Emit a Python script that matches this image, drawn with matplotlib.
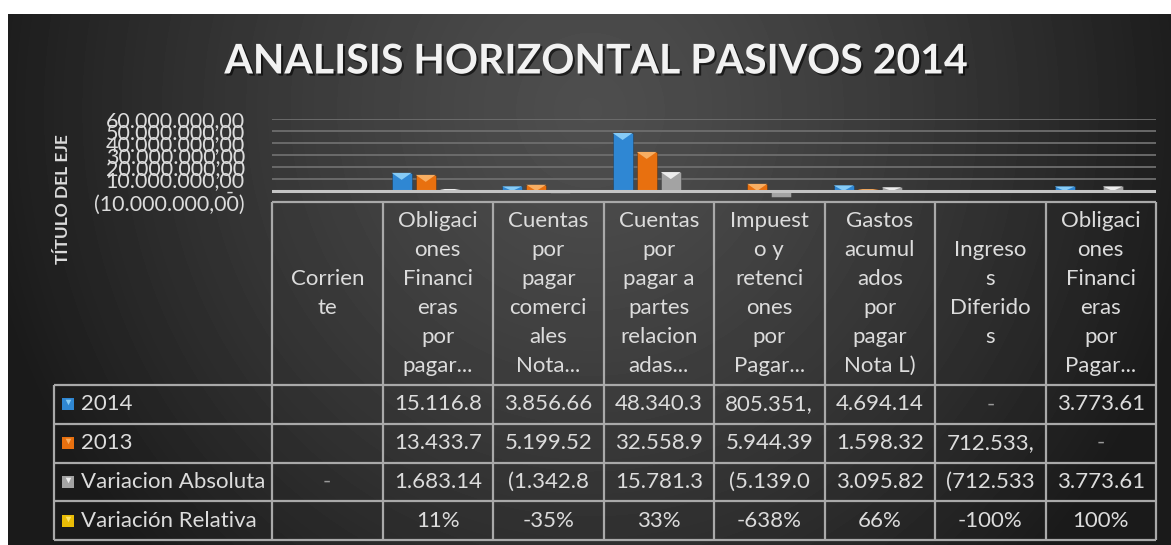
import numpy as np
import matplotlib.pyplot as plt
from matplotlib import patheffects as pe
from matplotlib.ticker import FuncFormatter, MultipleLocator

plt.rcParams['font.family'] = ['Lato', 'DejaVu Sans']

W, H = 1171, 545

# ---------------------------------------------------------------------------
# Datos
# ---------------------------------------------------------------------------
categorias = [
    "Corrien\nte",
    "Obligaci\nones\nFinanci\neras\npor\npagar...",
    "Cuentas\npor\npagar\ncomerci\nales\nNota...",
    "Cuentas\npor\npagar a\npartes\nrelacion\nadas...",
    "Impuest\no y\nretenci\nones\npor\nPagar...",
    "Gastos\nacumul\nados\npor\npagar\nNota L)",
    "Ingreso\ns\nDiferido\ns",
    "Obligaci\nones\nFinanci\neras\npor\nPagar...",
]
series = ["2014", "2013", "Variacion Absoluta", "Variación Relativa"]

v2014 = [np.nan, 15116800, 3856660, 48340300, 805351, 4694140, 0, 3773610]
v2013 = [np.nan, 13433700, 5199520, 32558900, 5944390, 1598320, 712533, 0]
var_abs = [0, 1683140, -1342860, 15781300, -5139040, 3095820, -712533, 3773610]
var_rel = [np.nan, 0.11, -0.35, 0.33, -6.38, 0.66, -1.00, 1.00]

# texto tal como aparece (truncado) en la tabla de datos
txt_2014 = ["", "15.116.8", "3.856.66", "48.340.3", "805.351,", "4.694.14", "-", "3.773.61"]
txt_2013 = ["", "13.433.7", "5.199.52", "32.558.9", "5.944.39", "1.598.32", "712.533,", "-"]
txt_abs = ["-", "1.683.14", "(1.342.8", "15.781.3", "(5.139.0", "3.095.82", "(712.533", "3.773.61"]
txt_rel = ["", "11%", "-35%", "33%", "-638%", "66%", "-100%", "100%"]

valores = [v2014, v2013, var_abs, var_rel]
textos = [txt_2014, txt_2013, txt_abs, txt_rel]
colores = ["#2F87D3", "#E8700F", "#A3A3A3", "#E9BC06"]
claros = ["#86CBF6", "#F8AE62", "#EDEDED", "#FBE36A"]

TXT = "#dcdcdc"
LINEA = "#a9a9a9"
FS = 16

# ---------------------------------------------------------------------------
# Figura y fondo degradado
# ---------------------------------------------------------------------------
fig = plt.figure(figsize=(W / 100, H / 100), dpi=100)
fig.patch.set_facecolor("white")

bg = fig.add_axes([0, 0, 1, 1])
bg.set_xlim(0, W)
bg.set_ylim(H, 0)
bg.set_axis_off()
yy, xx = np.mgrid[14:H, 8:W]
d = np.sqrt(((xx - 590) / 620) ** 2 + ((yy - 110) / 650) ** 2)
g = (78 - 52 * np.clip(d, 0, 1) ** 1.3) / 255
bg.imshow(g, cmap="gray", vmin=0, vmax=1, extent=(8, W, H, 14),
          aspect="auto", interpolation="bilinear")

fig.text(596 / W, 1 - 62 / H, "ANALISIS HORIZONTAL PASIVOS 2014",
         ha="center", va="center", fontsize=29.5, fontweight="bold",
         color="#f2f2f2",
         path_effects=[pe.withSimplePatchShadow(offset=(1.5, -1.5),
                                                shadow_rgbFace="black",
                                                alpha=0.6)])

# ---------------------------------------------------------------------------
# Área del gráfico
# ---------------------------------------------------------------------------
px_l, px_r, px_top, px_bot = 272, 1156, 119, 203
ax = fig.add_axes([px_l / W, 1 - px_bot / H, (px_r - px_l) / W, (px_bot - px_top) / H])
ax.patch.set_alpha(0)
ax.set_xlim(-0.5, len(categorias) - 0.5)
ax.set_ylim(-10e6, 60e6)
for s in ax.spines.values():
    s.set_visible(False)
ax.yaxis.set_major_locator(MultipleLocator(10e6))
ax.grid(axis="y", color="#6e6e6e", lw=1.3)
ax.set_axisbelow(True)
ax.set_xticks([])


def fmt(v, _pos):
    if abs(v) < 1:
        return "-  "
    s = f"{abs(v):,.2f}".replace(",", "X").replace(".", ",").replace("X", ".")
    return f"({s})" if v < 0 else s


ax.yaxis.set_major_formatter(FuncFormatter(fmt))
ax.tick_params(axis="y", length=0, pad=19.5, labelsize=15.5, labelcolor=TXT)
ax.set_ylabel("TÍTULO DEL EJE", fontsize=12.5, fontweight="bold", color=TXT,
              va="center")
ax.yaxis.set_label_coords((63 - px_l) / (px_r - px_l), 0.05)

x = np.arange(len(categorias))
ancho, paso = 0.18, 0.218
ppx = 70e6 / (px_bot - px_top)  # unidades por pixel
for k, (vals, c, cl) in enumerate(zip(valores, colores, claros)):
    bars = ax.bar(x + (k - 1.5) * paso, np.nan_to_num(vals), ancho, color=c,
                  edgecolor="#00000040", lw=0.6, zorder=3)
    for b in bars:
        h = b.get_height()
        if h > 1.5e6:
            th = min(7 * ppx, h)
            x0, w = b.get_x(), b.get_width()
            ax.fill([x0, x0 + w, x0 + w / 2], [h, h, h - th], color=cl, zorder=4, lw=0)
ax.axhline(0, color="#c4c4c4", lw=2.2, zorder=5)

# ---------------------------------------------------------------------------
# Tabla de datos
# ---------------------------------------------------------------------------
tb_l, tb_top, tb_bot = 54, 202, 540
col_w = (px_r - px_l) / len(categorias)
row_h = 38.75
hdr = (385 - tb_top) / row_h
xl = -0.5 - (px_l - tb_l) / col_w

tab = fig.add_axes([tb_l / W, 1 - tb_bot / H, (px_r - tb_l) / W, (tb_bot - tb_top) / H])
tab.set_axis_off()
tab.set_xlim(xl, len(categorias) - 0.5)
tab.set_ylim(len(series), -hdr)

nrow = len(series)
tab.hlines(-hdr, -0.5, len(categorias) - 0.5, color=LINEA, lw=1.6, clip_on=False)
tab.hlines(np.arange(nrow + 1), xl, len(categorias) - 0.5, color=LINEA, lw=1.6, clip_on=False)
tab.vlines(xl, 0, nrow, color=LINEA, lw=1.6, clip_on=False)
tab.vlines(np.arange(len(categorias) + 1) - 0.5, -hdr, nrow, color=LINEA, lw=1.6, clip_on=False)

sp = 29 / row_h
for i, cat in enumerate(categorias):
    lines = cat.split("\n")
    n = len(lines)
    for j, ln in enumerate(lines):
        tab.text(i, -hdr / 2 + (j - (n - 1) / 2) * sp, ln, ha="center", va="center",
                 fontsize=FS, color=TXT)

for r, (name, tx, c, cl) in enumerate(zip(series, textos, colores, claros)):
    yc = r + 0.5
    tab.scatter([xl + 14 / col_w], [yc], marker="s", s=70, color=c, lw=0, clip_on=False)
    tab.scatter([xl + 14 / col_w], [yc - 0.05], marker="v", s=16, color=cl, lw=0, clip_on=False)
    tab.text(xl + 27 / col_w, yc, name, ha="left", va="center", fontsize=FS, color=TXT)
    for i, t in enumerate(tx):
        tab.text(i, yc, t, ha="center", va="center", fontsize=FS,
                 color="#9a9a9a" if t == "-" else TXT)

fig.savefig("out.png", dpi=100, facecolor="white")
